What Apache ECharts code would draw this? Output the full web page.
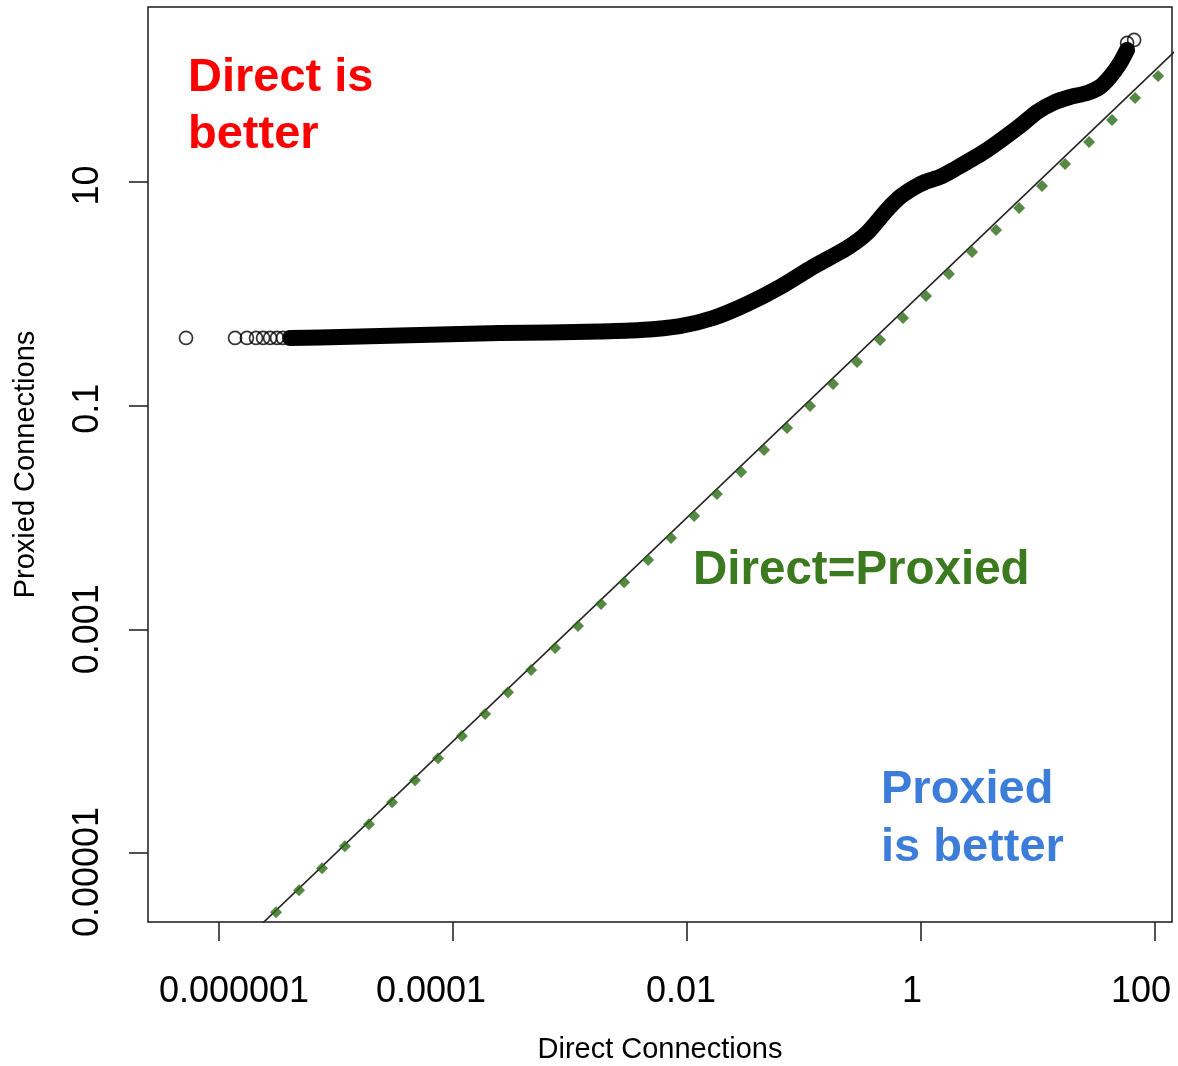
<!DOCTYPE html>
<html>
<head>
<meta charset="utf-8">
<script src="https://cdn.jsdelivr.net/npm/echarts@6/dist/echarts.min.js"></script>
<style>html,body{margin:0;padding:0;background:#fff}#c{width:1178px;height:1066px}</style>
</head>
<body>
<div id="c"></div>
<script>
// Black circles: quantile pairs (Direct, Proxied)
const curveDirect = [5.22e-7, 1.37e-6, 1.73e-6, 2.07e-6, 2.38e-6, 2.73e-6, 3.13e-6, 3.52e-6, 4.05e-6, 7.29e-6, 1.60e-5, 3.52e-5, 7.74e-5, 2.52e-4, 6.75e-4, 1.80e-3, 3.96e-3, 8.71e-3, 1.67e-2, 3.26e-2, 6.24e-2, 0.119, 0.233, 0.345, 0.512, 0.662, 0.855, 1.081, 1.452, 1.879, 3.664, 7.015, 9.795, 13.43, 18.79, 26.24, 33.88, 41.21, 50.23, 57.68, 57.68, 66.22];
const curveProxied = [0.403, 0.403, 0.403, 0.403, 0.403, 0.403, 0.403, 0.403, 0.403, 0.406, 0.415, 0.424, 0.433, 0.446, 0.451, 0.460, 0.474, 0.515, 0.608, 0.811, 1.151, 1.738, 2.570, 3.499, 5.623, 7.345, 8.831, 10.0, 11.09, 12.79, 19.32, 31.70, 42.27, 50.93, 57.54, 62.52, 70.79, 86.90, 115.9, 151.7, 175.0, 186.2];
// dense part of the cloud (drawn as a solid band)
const bandStart = 8, bandEnd = 40;

// Green diamonds
const diamondDirect = [3.07e-6, 4.83e-6, 7.59e-6, 1.19e-5, 1.91e-5, 3.01e-5, 4.73e-5, 7.45e-5, 1.19e-4, 1.88e-4, 2.95e-4, 4.65e-4, 7.45e-4, 1.17e-3, 1.84e-3, 2.90e-3, 4.65e-3, 7.30e-3, 1.15e-2, 1.80e-2, 2.90e-2, 4.55e-2, 7.16e-2, 0.1125, 0.177, 0.284, 0.447, 0.702, 1.104, 1.734, 2.729, 4.375, 6.887, 10.81, 17.02, 27.29, 42.85, 67.45, 106.2];
const diamondProxied = [2.95e-6, 4.65e-6, 7.31e-6, 1.15e-5, 1.81e-5, 2.84e-5, 4.48e-5, 7.05e-5, 1.11e-4, 1.75e-4, 2.74e-4, 4.32e-4, 6.79e-4, 1.07e-3, 1.68e-3, 2.64e-3, 4.16e-3, 6.55e-3, 1.03e-2, 1.62e-2, 2.55e-2, 4.01e-2, 6.31e-2, 9.91e-2, 0.156, 0.2455, 0.386, 0.608, 0.955, 1.503, 2.366, 3.724, 5.848, 9.204, 14.49, 22.80, 35.89, 56.36, 88.72];

// y = x reference line end points
const refLine = [1e-7, 1000];

// Axis ticks and labels
const xTicks = [1e-6, 1e-4, 1e-2, 1, 100];
const xTickLabels = ['0.000001', '0.0001', '0.01', '1', '100'];
const yTicks = [1e-5, 1e-3, 1e-1, 10];
const yTickLabels = ['0.00001', '0.001', '0.1', '10'];

const FONT = '"Liberation Sans", Arial, Helvetica, sans-serif';

// label nudges as in the picture (padding around each label text)
const xLabelPad = [[0, 0, 0, 30], [0, 44, 0, 0], [0, 12, 0, 0], [0, 18, 0, 0], [0, 28, 0, 0]];
const yLabelPad = [[0, 38, 0, 0], [0, 0, 0, 0], [0, 6, 0, 0], [0, 7, 0, 0]];

function richFor(pads) {
  const r = {};
  pads.forEach((p, i) => { r['t' + i] = {padding: p, fontSize: 36, color: '#000', fontFamily: FONT}; });
  return r;
}
function labelFor(ticks, labels) {
  return function (v) {
    for (let i = 0; i < ticks.length; i++) {
      if (Math.abs(Math.log10(v) - Math.log10(ticks[i])) < 1e-6) return '{t' + i + '|' + labels[i] + '}';
    }
    return '';
  };
}

const curvePts = curveDirect.map((d, i) => [d, curveProxied[i]]);
const bandPts = curvePts.slice(bandStart, bandEnd);
const diamondPts = diamondDirect.map((d, i) => [d, diamondProxied[i]]);

const chart = echarts.init(document.getElementById('c'), null, {renderer: 'canvas'});
chart.setOption({
  animation: false,
  backgroundColor: '#fff',
  textStyle: {fontFamily: FONT},
  grid: {left: 148, right: 6, top: 7, bottom: 144, show: true, borderColor: '#1a1a1a', borderWidth: 1.5, backgroundColor: 'transparent', containLabel: false, outerBoundsMode: 'none'},
  xAxis: {
    type: 'log', logBase: 10,
    min: 2.47e-7, max: 139.6,
    name: 'Direct Connections', nameLocation: 'middle', nameGap: 113,
    nameTextStyle: {fontSize: 29, color: '#000', fontFamily: FONT},
    axisLine: {show: false},
    axisTick: {show: true, length: 19, inside: false, customValues: xTicks, lineStyle: {color: '#1a1a1a', width: 1.5}},
    axisLabel: {show: true, margin: 52, fontSize: 36, color: '#000', fontFamily: FONT, customValues: xTicks, formatter: labelFor(xTicks, xTickLabels), rich: richFor(xLabelPad), hideOverlap: false},
    splitLine: {show: false}, minorTick: {show: false}
  },
  yAxis: {
    type: 'log', logBase: 10,
    min: 2.415e-6, max: 367,
    name: 'Proxied Connections', nameLocation: 'middle', nameGap: 108,
    nameTextStyle: {fontSize: 29, color: '#000', fontFamily: FONT},
    axisLine: {show: false},
    axisTick: {show: true, length: 19, inside: false, customValues: yTicks, lineStyle: {color: '#1a1a1a', width: 1.5}},
    axisLabel: {show: true, margin: 42, rotate: 90, fontSize: 36, color: '#000', fontFamily: FONT, customValues: yTicks, formatter: labelFor(yTicks, yTickLabels), rich: richFor(yLabelPad), hideOverlap: false},
    splitLine: {show: false}, minorTick: {show: false}
  },
  series: [
    {
      type: 'line', data: [[refLine[0], refLine[0]], [refLine[1], refLine[1]]],
      showSymbol: false, symbol: 'none', clip: true, z: 2,
      lineStyle: {color: '#222', width: 1.6}
    },
    {
      type: 'scatter', data: diamondPts, symbol: 'diamond', symbolSize: [12, 12], z: 3,
      itemStyle: {color: '#2c6c15'}
    },
    {
      type: 'line', data: bandPts, showSymbol: false, symbol: 'none', smooth: 0.25, z: 4,
      lineStyle: {color: '#000', width: 16, cap: 'round', join: 'round'}
    },
    {
      type: 'scatter', data: curvePts, symbol: 'circle', symbolSize: 13, z: 5,
      itemStyle: {color: 'rgba(0,0,0,0)', borderColor: '#000', borderWidth: 1.7}
    }
  ],
  graphic: [
    {type: 'text', x: 188, y: 78, style: {text: 'Direct is', fill: '#ff0000', font: 'bold 47px ' + FONT, align: 'left', verticalAlign: 'middle'}},
    {type: 'text', x: 188, y: 135, style: {text: 'better', fill: '#ff0000', font: 'bold 47px ' + FONT, align: 'left', verticalAlign: 'middle'}},
    {type: 'text', x: 693, y: 571, style: {text: 'Direct=Proxied', fill: '#3b7a1f', font: 'bold 47.5px ' + FONT, align: 'left', verticalAlign: 'middle'}},
    {type: 'text', x: 881, y: 790, style: {text: 'Proxied', fill: '#3c7dda', font: 'bold 47px ' + FONT, align: 'left', verticalAlign: 'middle'}},
    {type: 'text', x: 881, y: 848, style: {text: 'is better', fill: '#3c7dda', font: 'bold 47px ' + FONT, align: 'left', verticalAlign: 'middle'}}
  ]
});
</script>
</body>
</html>
